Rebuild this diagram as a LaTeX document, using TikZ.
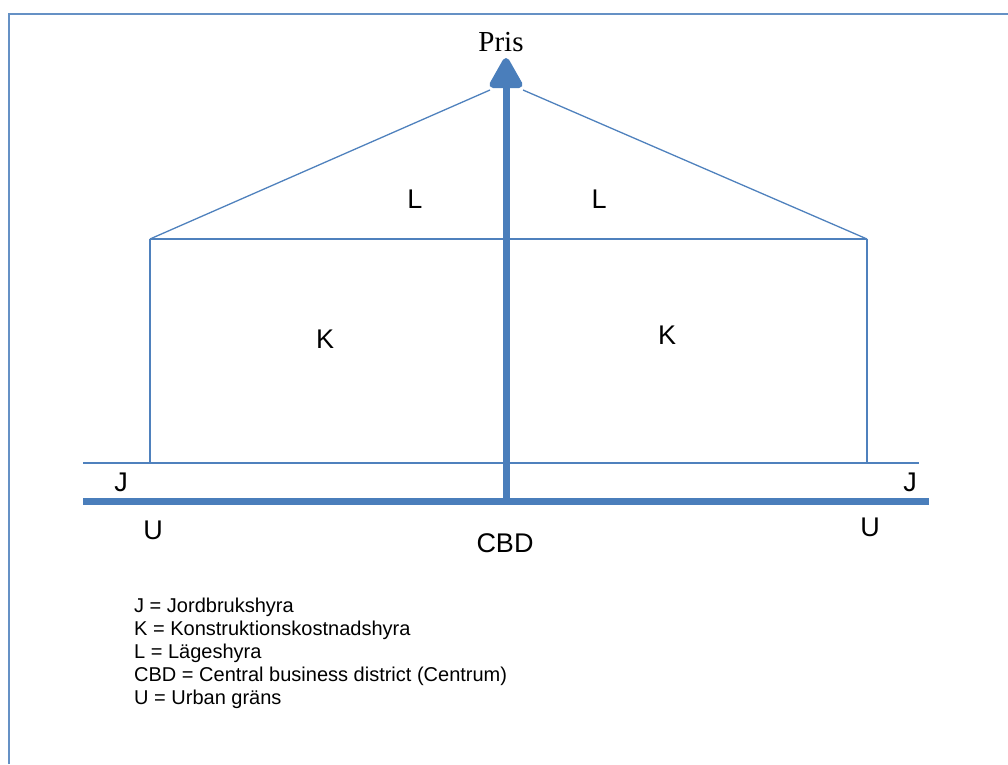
\documentclass[tikz,border=0pt]{standalone}
\usepackage{fontspec}
\setmainfont{Liberation Sans}
\newfontfamily\serifface{Liberation Serif}
\usetikzlibrary{arrows.meta}
\definecolor{axisblue}{HTML}{4A7EBB}
\definecolor{lineblue}{HTML}{4F81BD}
\tikzset{
  thinline/.style={draw=lineblue, line width=1.3pt},
  thickline/.style={draw=axisblue, line width=7pt},
  lbl/.style={font=\fontsize{27}{31}\selectfont, inner sep=0pt},
  legend/.style={font=\fontsize{20}{23}\selectfont, inner sep=0pt, align=left}
}
\begin{document}
\begin{tikzpicture}[x=1pt, y=-1pt]
  \useasboundingbox (0,0) rectangle (1008,764);
  % frame
  \draw[draw=axisblue!85, line width=2.2pt] (9,764) -- (9,14) -- (1008,14);

  % key points
  \coordinate (tip) at (506,58);
  \coordinate (base) at (506,501);
  \coordinate (hl) at (490,90);
  \coordinate (hr) at (523,90);
  \coordinate (ul) at (150,239);
  \coordinate (ur) at (867,239);
  \coordinate (jl) at (150,463);
  \coordinate (jr) at (867,463);
  \coordinate (jstart) at (83,463);
  \coordinate (jend) at (919,463);
  \coordinate (astart) at (83,501);
  \coordinate (aend) at (929,501);

  % rent curve (location rent on top of construction rent)
  \draw[thinline] (ul) -- (hl);
  \draw[thinline] (hr) -- (ur);
  \draw[thinline] (ul) -- (ur);
  \draw[thinline] (ul) -- (jl);
  \draw[thinline] (ur) -- (jr);
  \draw[thinline] (jstart) -- (jend);

  % distance axis
  \draw[thickline] (astart) -- (aend);
  % price axis
  \draw[thickline, -{Triangle[length=34pt, width=36pt, round]}] (base) -- (tip);

  % labels
  \node[font=\serifface\fontsize{29}{33}\selectfont, inner sep=0pt] (pris) at (501,42) {Pris};
  \node[lbl] (l1) at (415,199) {L};
  \node[lbl] (l2) at (599,199) {L};
  \node[lbl] (k1) at (325,339) {K};
  \node[lbl] (k2) at (667,335) {K};
  \node[lbl] (j1) at (121,482) {J};
  \node[lbl] (j2) at (910,482) {J};
  \node[lbl] (u1) at (153,530) {U};
  \node[lbl] (u2) at (870,527) {U};
  \node[lbl] (cbd) at (505,543) {CBD};

  % legend (base anchor sits on the last line)
  \node[legend, anchor=base west] (leg) at (134,704) {%
    J = Jordbrukshyra\\
    K = Konstruktionskostnadshyra\\
    L = Lägeshyra\\
    CBD = Central business district (Centrum)\\
    U = Urban gräns};
\end{tikzpicture}
\end{document}
